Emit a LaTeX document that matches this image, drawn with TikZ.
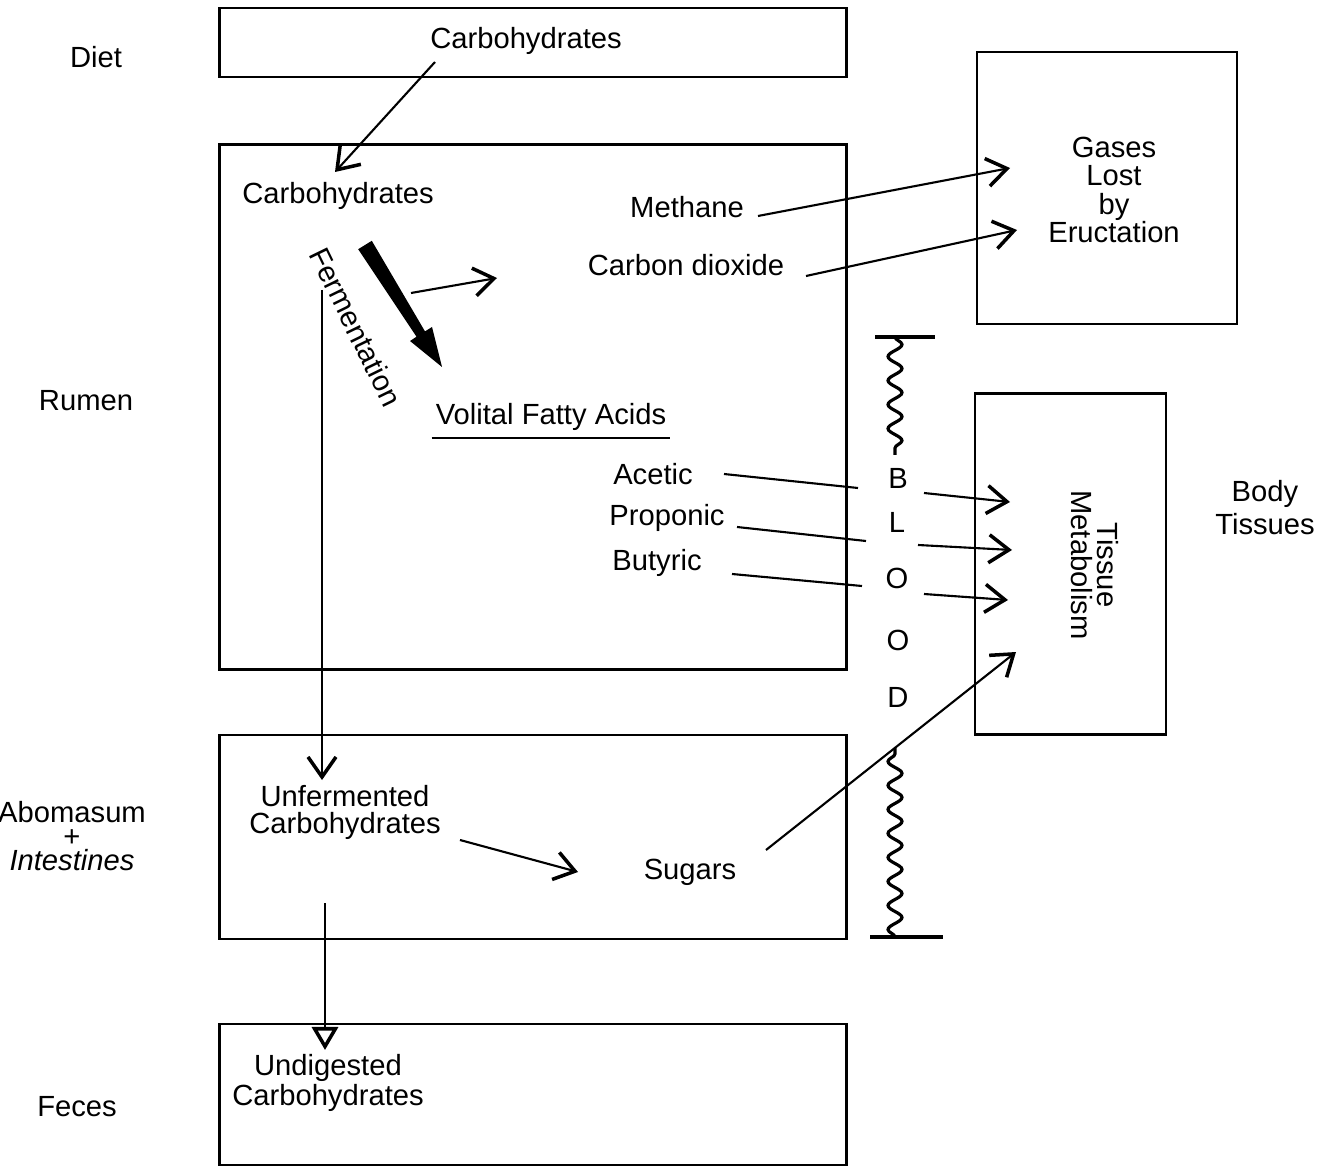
\documentclass[tikz,border=0pt]{standalone}
\usepackage{fontspec}
\setmainfont{Liberation Sans}
\usetikzlibrary{positioning}
\usetikzlibrary{arrows.meta}
\usetikzlibrary{decorations.pathmorphing}

\begin{document}
\begin{tikzpicture}[x=0.01cm,y=-0.01cm,
  every node/.style={font=\fontsize{8.3}{9.4}\selectfont, inner sep=1pt},
  box/.style={draw, line width=0.8pt, inner sep=0pt},
  flow/.style={line width=0.6pt, -{Straight Barb[length=2mm,width=2.8mm,line width=1pt]}},
  wave/.style={line width=0.9pt, decorate, decoration={snake, amplitude=0.7mm, segment length=2.4mm}}]
\useasboundingbox (0,0) rectangle (1321,1167);

\node[box, minimum width=6.26cm, minimum height=0.69cm](dietbox) at (533,42.5){};
\node[box, minimum width=6.26cm, minimum height=5.24cm](rumenbox) at (533,407){};
\node[box, minimum width=6.26cm, minimum height=2.04cm](abobox) at (533,837){};
\node[box, minimum width=6.26cm, minimum height=1.41cm](fecesbox) at (533,1094.5){};
\node[box, minimum width=2.60cm, minimum height=2.72cm](gasbox) at (1107,188){};
\node[box, minimum width=1.91cm, minimum height=3.40cm](tissuebox) at (1070.5,564){};

\node(diet) at (96,57){Diet};
\node(rumen) at (86,401){Rumen};
\node[align=center, font=\fontsize{8.3}{6.8}\selectfont](abomasum) at (72,836){Abomasum\\+\\\textit{Intestines}};
\node(feces) at (77,1107){Feces};
\node[align=center](body) at (1265,508){Body\\Tissues};

\node(dcarb) at (526,41){Carbohydrates};
\node(rcarb) at (338,196){Carbohydrates};
\node(methane) at (687,207){Methane};
\node(co2) at (686,265){Carbon dioxide};
\node[rotate=-64, inner sep=0pt](ferm) at (356,327){Fermentation};
\node(vfa) at (551,417){Volital Fatty Acids};
\draw[line width=0.6pt] ([yshift=-1pt]vfa.south west) -- ([yshift=-1pt]vfa.south east);
\node(acetic) at (653,474){Acetic};
\node(proponic) at (667,518){Proponic};
\node(butyric) at (657,563){Butyric};
\node[align=center, font=\fontsize{8.3}{8}\selectfont](gases) at (1114,190){Gases\\Lost\\by\\Eructation};
\node[rotate=-90, align=center, font=\fontsize{8.3}{7.6}\selectfont](tissue) at (1095,565){Tissue\\Metabolism};
\node(b1) at (898,478){B};
\node(b2) at (897,522){L};
\node(b3) at (897,578){O};
\node(b4) at (898,640){O};
\node(b5) at (898,697){D};
\node[align=center, font=\fontsize{8.3}{7.7}\selectfont](unferm) at (345,812){Unfermented\\Carbohydrates};
\node(sugars) at (690,872){Sugars};
\node[align=center, font=\fontsize{8.3}{8.5}\selectfont](undig) at (328,1083){Undigested\\Carbohydrates};

\fill (371.8,240.8) -- (425,331.4) -- (432,327) -- (442,367) -- (410,341) -- (416.5,336.7) -- (358.2,249.2) -- cycle;
\coordinate (fermout) at (411,293);
\coordinate (fermgas) at (497,278);
\path (fermout) edge[flow] (fermgas);

\coordinate (dcarbout) at (435,62);
\coordinate (rcarbin) at (335,172);
\path (dcarbout) edge[flow] (rcarbin);

\coordinate (methaneout) at (758,216);
\coordinate (methanein) at (1010,168);
\path (methaneout) edge[flow] (methanein);
\coordinate (co2out) at (806,276);
\coordinate (co2in) at (1017,230);
\path (co2out) edge[flow] (co2in);

\coordinate (aceticout) at (724,474);
\coordinate (aceticblood) at (858,488);
\coordinate (aceticexit) at (924,493);
\coordinate (aceticin) at (1010,502);
\path (aceticout) edge[line width=0.6pt] (aceticblood);
\path (aceticexit) edge[flow] (aceticin);
\coordinate (proponicout) at (737,527);
\coordinate (proponicblood) at (866,541);
\coordinate (proponicexit) at (918,545);
\coordinate (proponicin) at (1012,550);
\path (proponicout) edge[line width=0.6pt] (proponicblood);
\path (proponicexit) edge[flow] (proponicin);
\coordinate (butyricout) at (732,574);
\coordinate (butyricblood) at (862,586);
\coordinate (butyricexit) at (924,594);
\coordinate (butyricin) at (1008,600);
\path (butyricout) edge[line width=0.6pt] (butyricblood);
\path (butyricexit) edge[flow] (butyricin);

\coordinate (sugarsout) at (766,850);
\coordinate (sugarsin) at (1016,652);
\path (sugarsout) edge[flow] (sugarsin);
\coordinate (unfermout) at (460,840);
\coordinate (sugarsarr) at (578,872);
\path (unfermout) edge[flow] (sugarsarr);

\coordinate (rumendown) at (322,290);
\coordinate (abomin) at (322,780);
\path (rumendown) edge[flow] (abomin);
\coordinate (abomdown) at (325,903);
\coordinate (fecesin) at (325,1050);
\path (abomdown) edge[line width=0.6pt, -{Triangle[open,length=2.3mm,width=2.6mm,line width=1pt]}] (fecesin);

\coordinate (bloodtop) at (895,337);
\coordinate (bloodtopend) at (895,455);
\draw[line width=0.9pt] (875,337) -- (935,337);
\draw[wave] (bloodtop) -- (bloodtopend);
\coordinate (bloodbot) at (895,937);
\coordinate (bloodbotend) at (895,748);
\draw[line width=0.9pt] (870,937) -- (943,937);
\draw[wave] (bloodbot) -- (bloodbotend);
\end{tikzpicture}
\end{document}
